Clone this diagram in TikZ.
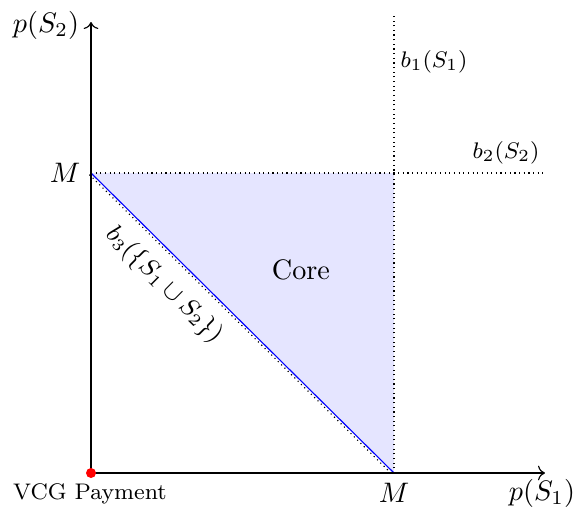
\documentclass[tikz,border=0pt]{standalone}
\usetikzlibrary{arrows.meta}
\tikzset{
  guide/.style={dash pattern=on 0.4pt off 1.25pt, line width=0.4pt},
  axis/.style={->, line width=0.4pt},
  lbl/.style={inner sep=0pt, anchor=center},
}
\begin{document}
\begin{tikzpicture}[x=0.3546pt, y=-0.3546pt]
\useasboundingbox (0,0) rectangle (576,515);
% coordinates
\coordinate (O) at (91,473);
\coordinate (Xend) at (545,473);
\coordinate (Yend) at (91,22);
\coordinate (MY) at (91,173);
\coordinate (MX) at (394,473);
\coordinate (C) at (394,173);
\coordinate (Vtop) at (394,15);
\coordinate (Hend) at (545,173);
% core region
\fill[blue!10] (MY) -- (C) -- (MX) -- cycle;
% guides
\draw[guide] (MX) -- (Vtop);
\draw[guide] (MY) -- (Hend);
\draw[guide] ([shift={(-1.6,1.6)}]MY) -- ([shift={(-1.6,1.6)}]MX);
\draw[blue, line width=0.4pt] (MY) -- (MX);
% axes
\draw[axis] (O) -- (Xend);
\draw[axis] (O) -- (Yend);
\fill[red] (O) circle[radius=5];
% labels
\node[lbl] (py) at (46,25) {$p(S_2)$};
\node[lbl] (px) at (542,493) {$p(S_1)$};
\node[lbl] (my) at (65,173) {$M$};
\node[lbl] (mx) at (394,493) {$M$};
\node[lbl] (b1) at (434,62) {\footnotesize $b_1(S_1)$};
\node[lbl] (b2) at (506,153) {\footnotesize $b_2(S_2)$};
\node[lbl, rotate=-44.7] (b3) at (164,285) {\small $b_3(\{S_1 \cup S_2\})$};
\node[lbl] (core) at (301,270) {Core};
\node[lbl] (vcg) at (90,494) {\footnotesize VCG Payment};
\end{tikzpicture}
\end{document}
